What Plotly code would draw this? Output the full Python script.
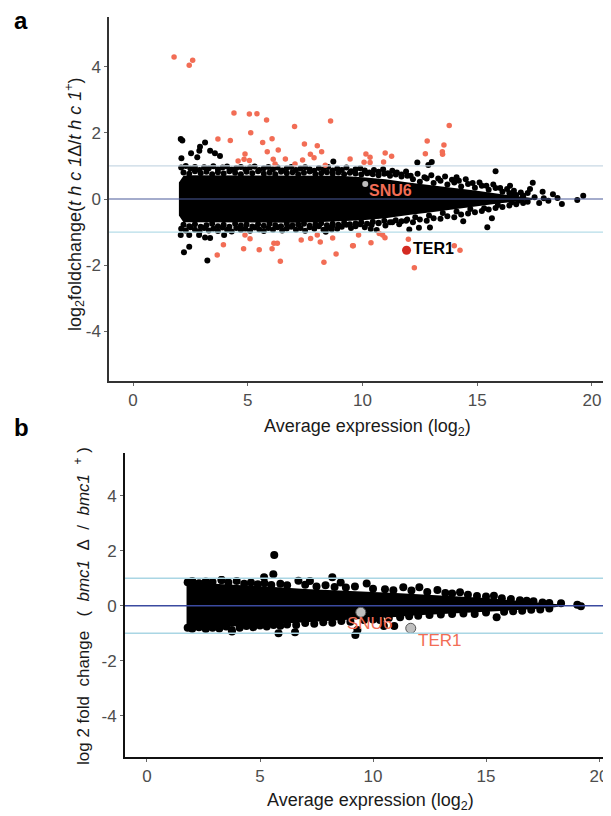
import plotly.graph_objects as go

# ---------------- Panel a data (thc1) ----------------
a_core_x = [2.0, 2.2, 2.5, 3.0, 3.5, 4.0, 5.0, 6.0, 7.0, 8.0, 9.0, 10.0, 11.0, 12.0, 13.0, 14.0, 15.0, 16.0, 16.8, 17.4]
a_core_hi = [0.5, 0.7, 0.72, 0.72, 0.72, 0.72, 0.72, 0.72, 0.72, 0.7, 0.7, 0.66, 0.6, 0.5, 0.42, 0.34, 0.25, 0.15, 0.08, 0.03]
a_core_lo = [-0.5, -0.7, -0.72, -0.72, -0.72, -0.72, -0.72, -0.72, -0.72, -0.7, -0.68, -0.64, -0.58, -0.48, -0.4, -0.32, -0.22, -0.13, -0.07, -0.03]

# inner ragged rows of the dense cloud
a_row_x = [2.2, 2.45, 2.7, 2.95, 3.2, 3.45, 3.7, 3.95, 4.2, 4.45, 4.7, 4.95, 5.2, 5.45, 5.7, 5.95, 6.2, 6.45, 6.7, 6.95,
           7.2, 7.45, 7.7, 7.95, 8.2, 8.45, 8.7, 8.95, 9.2, 9.45, 9.7, 9.95, 10.2, 10.45, 10.7, 10.95, 11.2, 11.45, 11.7, 11.95]
a_row_hi = [0.8, 0.76, 0.84, 0.78, 0.82, 0.75, 0.81, 0.77, 0.84, 0.79, 0.75, 0.82, 0.78, 0.84, 0.76, 0.8, 0.75, 0.82, 0.78, 0.81,
            0.75, 0.79, 0.83, 0.75, 0.78, 0.81, 0.76, 0.8, 0.75, 0.79, 0.77, 0.74, 0.78, 0.75, 0.72, 0.76, 0.7, 0.74, 0.68, 0.7]
a_row_lo = [-0.78, -0.82, -0.76, -0.84, -0.79, -0.75, -0.82, -0.78, -0.84, -0.75, -0.8, -0.77, -0.83, -0.76, -0.81, -0.75, -0.79, -0.82, -0.75, -0.8,
            -0.77, -0.75, -0.81, -0.76, -0.73, -0.79, -0.75, -0.78, -0.72, -0.76, -0.74, -0.7, -0.75, -0.69, -0.73, -0.66, -0.7, -0.64, -0.67, -0.62]

# ragged right tail of the cloud
a_tail_x = [12.2, 12.5, 12.8, 13.1, 13.4, 13.7, 14.0, 14.3, 14.6, 14.9, 15.2, 15.5, 15.8, 16.1, 16.4, 16.7, 17.0,
            12.3, 12.9, 13.5, 14.1, 14.7, 15.3, 15.9, 16.5]
a_tail_y = [0.6, 0.52, 0.62, 0.48, 0.55, 0.44, 0.5, 0.38, 0.45, 0.34, 0.4, 0.28, 0.33, 0.22, 0.18, 0.12, 0.08,
            -0.55, -0.5, -0.42, -0.38, -0.3, -0.28, -0.18, -0.1]

a_black_x = [2.1, 2.3, 2.5, 2.7, 2.9, 3.1, 3.3, 3.5, 3.7, 3.9, 4.1, 4.3, 4.5, 4.7, 4.9, 5.1, 5.3, 5.5, 5.7, 5.9,
             6.1, 6.3, 6.5, 6.7, 6.9, 7.1, 7.3, 7.5, 7.7, 7.9, 8.1, 8.3, 8.5, 8.7, 8.9, 9.1, 9.3, 9.5, 9.7, 9.9,
             10.1, 10.3, 10.5, 10.7, 10.9, 11.1, 11.3, 11.5, 11.7, 11.9, 12.1, 12.4, 12.7, 13.0, 13.3, 13.6, 13.9,
             14.2, 14.5, 14.8, 15.1, 15.4, 15.7, 16.0, 16.3, 16.6, 16.9, 17.2,
             2.1, 2.3, 2.5, 2.7, 2.9, 3.1, 3.3, 3.5, 3.7, 3.9, 4.1, 4.3, 4.5, 4.7, 4.9, 5.1, 5.3, 5.5, 5.7, 5.9,
             6.1, 6.3, 6.5, 6.7, 6.9, 7.1, 7.3, 7.5, 7.7, 7.9, 8.1, 8.3, 8.5, 8.7, 8.9, 9.1, 9.3, 9.5, 9.7, 9.9,
             10.1, 10.4, 10.7, 11.0, 11.3, 11.6, 11.9, 12.2, 12.5, 12.8, 13.1, 13.4, 13.7, 14.0, 14.3, 14.6, 14.9,
             15.2, 15.5, 15.8, 16.1, 16.4, 16.7, 17.0,
             2.08, 2.15, 2.11, 3.14, 2.53, 2.92, 2.89, 3.36, 3.57, 3.79, 2.80, 2.08, 2.45, 2.88, 3.14, 3.36, 2.45,
             2.22, 3.24, 3.97, 8.73, 8.40, 8.66, 12.39, 13.02, 12.87, 15.8, 17.42, 14.1, 16.43, 15.64, 15.44, 14.39,
             12.94, 12.46, 12.04, 10.36, 10.62,
             16.5, 16.8, 17.0, 17.2, 17.3, 17.5, 17.7, 17.85, 17.9, 18.1, 18.3, 18.5, 18.69, 19.36, 19.62]
a_black_y = [0.95, 1.0, 0.92, 0.97, 0.88, 0.96, 0.93, 0.99, 0.9, 0.95, 0.98, 0.89, 0.94, 0.97, 0.9, 0.95, 0.98, 0.88, 0.93, 0.97,
             0.9, 0.95, 0.86, 0.93, 0.97, 0.88, 0.92, 0.96, 0.9, 0.85, 0.94, 0.89, 0.97, 0.86, 0.92, 0.88, 0.95, 0.84, 0.9, 0.93,
             0.86, 0.8, 0.88, 0.82, 0.9, 0.78, 0.85, 0.8, 0.74, 0.83, 0.7, 0.76, 0.66, 0.72, 0.62, 0.68, 0.58,
             0.55, 0.6, 0.48, 0.5, 0.4, 0.44, 0.33, 0.3, 0.25, 0.2, 0.18,
             -0.9, -0.95, -0.85, -0.93, -0.98, -0.88, -0.95, -0.9, -0.97, -0.86, -0.93, -0.98, -0.88, -0.94, -0.9, -0.96, -0.86, -0.92, -0.97, -0.88,
             -0.93, -0.85, -0.95, -0.89, -0.84, -0.93, -0.88, -0.96, -0.85, -0.9, -0.82, -0.93, -0.87, -0.8, -0.9, -0.84, -0.78, -0.88, -0.82, -0.76,
             -0.85, -0.78, -0.72, -0.8, -0.7, -0.76, -0.66, -0.7, -0.62, -0.66, -0.58, -0.6, -0.52, -0.55, -0.47, -0.44, -0.4,
             -0.36, -0.32, -0.27, -0.24, -0.2, -0.16, -0.12,
             1.81, 1.77, 1.23, 1.71, 1.38, 1.58, 1.46, 1.46, 1.38, 1.30, 1.26, -1.09, -1.09, -1.09, -1.16, -1.18, -1.44,
             -1.61, -1.86, -1.09, 1.13, -0.99, -0.92, 1.10, 1.12, 1.03, 0.84, 0.49, 0.66, 0.40, -0.58, -0.85, -0.67,
             -0.86, -0.87, -0.92, -0.91, -0.94,
             0.15, -0.05, 0.1, -0.08, 0.3, 0.05, -0.12, 0.22, 0.02, -0.05, 0.14, 0.03, -0.15, -0.03, 0.10]

a_red_x = [1.79, 2.45, 2.60, 4.40, 5.07, 5.40, 5.82, 7.04, 8.61, 5.13, 3.70, 4.24, 6.06, 5.65, 7.47, 8.03, 8.22, 5.85,
           6.33, 4.88, 7.73, 7.89, 4.84, 4.58, 5.07, 6.11, 6.64, 7.39, 7.06, 6.19, 9.46, 8.38,
           13.78, 12.82, 13.55, 13.48, 13.49, 12.74, 10.15, 10.33, 10.99, 11.27, 10.07, 10.33, 10.92,
           4.88, 5.10, 3.94, 3.67, 4.82, 5.50, 6.06, 6.14, 6.29, 6.42, 7.33, 7.74, 8.03, 8.16, 8.70, 8.85, 8.32, 9.57,
           9.83, 9.60, 10.37, 10.73, 10.88, 10.98, 12.0, 12.26, 14.0, 14.25]
a_red_y = [4.29, 4.04, 4.19, 2.60, 2.57, 2.58, 2.39, 2.19, 2.36, 2.0, 1.81, 1.77, 1.82, 1.71, 1.66, 1.61, 1.43, 1.43,
           1.48, 1.36, 1.35, 1.25, 1.20, 1.15, 1.16, 1.20, 1.21, 1.18, 1.06, 1.06, 1.21, 1.02,
           2.22, 1.75, 1.63, 1.43, 1.35, 1.37, 1.36, 1.26, 1.39, 1.29, 1.11, 1.10, 1.12,
           -1.09, -1.20, -1.38, -1.69, -1.50, -1.53, -1.50, -1.34, -1.34, -1.88, -1.24, -1.19, -1.09, -1.30, -1.18, -1.66, -1.91, -1.41,
           -1.09, -1.41, -1.32, -1.04, -1.09, -1.17, -1.22, -2.08, -1.41, -1.55]

a_snu6 = (10.12, 0.45)
a_ter1 = (11.92, -1.55)

# ---------------- Panel b data (bmc1) ----------------
b_core_x = [1.75, 2.0, 3.0, 4.0, 5.0, 6.0, 7.0, 8.0, 9.0, 10.0, 11.0, 12.0, 13.0, 14.0, 15.0, 16.0, 17.0, 17.8, 18.2]
b_core_hi = [0.8, 0.83, 0.8, 0.76, 0.72, 0.66, 0.61, 0.58, 0.55, 0.5, 0.46, 0.42, 0.38, 0.34, 0.28, 0.21, 0.14, 0.09, 0.05]
b_core_lo = [-0.74, -0.78, -0.78, -0.75, -0.72, -0.67, -0.61, -0.56, -0.51, -0.46, -0.41, -0.35, -0.3, -0.27, -0.22, -0.17, -0.13, -0.08, -0.04]

b_black_x = [1.8, 2.0, 2.3, 2.6, 2.9, 3.3, 3.6, 3.97, 4.3, 4.6, 4.9, 5.2, 5.5, 5.9, 6.2, 6.70, 7.21, 7.0, 7.5, 7.9,
             8.57, 8.3, 8.8, 9.2, 9.72, 10.0, 10.53, 10.9, 11.34, 11.7, 12.05, 12.4, 12.85, 13.2, 13.5, 13.85, 14.2,
             14.6, 15.0, 15.35, 15.7, 16.1, 16.5, 16.8, 17.1, 17.5, 17.8, 18.32, 19.04, 19.2,
             1.8, 2.0, 2.3, 2.6, 2.9, 3.2, 3.5, 3.75, 4.1, 4.4, 4.7, 5.0, 5.3, 5.6, 5.9, 6.2, 6.6, 7.0, 7.4, 7.8,
             8.2, 8.6, 9.0, 9.6, 10.0, 10.31, 10.7, 11.2, 11.6, 12.0, 12.5, 13.0, 13.5, 14.0, 14.5, 15.0, 15.47,
             15.8, 16.2, 16.6, 17.0, 17.4, 17.8,
             5.63, 5.59, 5.18, 8.2, 3.30, 3.76, 5.82, 6.55, 9.22, 9.31, 10.48, 10.94]
b_black_y = [0.85, 0.9, 0.82, 0.88, 0.86, 0.93, 0.84, 0.9, 0.8, 0.84, 0.78, 0.82, 0.75, 0.8, 0.74, 0.91, 0.90, 0.76, 0.7, 0.74,
             0.84, 0.68, 0.66, 0.7, 0.81, 0.62, 0.6, 0.56, 0.67, 0.55, 0.67, 0.5, 0.57, 0.46, 0.44, 0.49, 0.4,
             0.35, 0.33, 0.36, 0.27, 0.24, 0.2, 0.18, 0.16, 0.12, 0.1, 0.09, 0.03, -0.02,
             -0.8, -0.84, -0.78, -0.85, -0.8, -0.83, -0.76, -0.88, -0.8, -0.74, -0.78, -0.72, -0.76, -0.7, -0.73, -0.68, -0.7, -0.63, -0.66, -0.6,
             -0.62, -0.56, -0.58, -0.52, -0.5, -0.52, -0.45, -0.42, -0.38, -0.37, -0.34, -0.32, -0.3, -0.28, -0.3, -0.25, -0.42,
             -0.22, -0.2, -0.18, -0.15, -0.14, -0.1,
             1.84, 1.14, 1.03, 1.03, 0.93, -0.94, -1.0, -0.97, -1.07, -0.88, -0.74, -0.74]

b_snu6 = (9.46, -0.24)
b_ter1 = (11.67, -0.82)

x_ticks = [0, 5, 10, 15, 20]
y_ticks = [-4, -2, 0, 2, 4]
y_tick_labels = ["-4", "-2", "0", "2", "4"]

FONT = "Liberation Sans, Arial, Helvetica, sans-serif"
SALMON = "#f26d55"
W, H = 603, 808          # page adds an 8px body margin


def PX(v):
    return (v - 8) / W


def PY(v):
    return 1 - (v - 8) / H


fig = go.Figure()


def core_trace(cx, hi, lo, xa, ya):
    return go.Scatter(x=cx + cx[::-1], y=hi + lo[::-1], fill="toself", fillcolor="black",
                      mode="lines", line=dict(width=0, color="black"), hoverinfo="skip",
                      showlegend=False, xaxis=xa, yaxis=ya)


# panel a
fig.add_trace(core_trace(a_core_x, a_core_hi, a_core_lo, "x", "y"))
fig.add_trace(go.Scatter(x=a_row_x + a_row_x + a_tail_x + a_black_x,
                         y=a_row_hi + a_row_lo + a_tail_y + a_black_y, mode="markers",
                         marker=dict(size=6, color="black"), showlegend=False, xaxis="x", yaxis="y"))
fig.add_trace(go.Scatter(x=a_red_x, y=a_red_y, mode="markers", marker=dict(size=5.5, color=SALMON),
                         showlegend=False, xaxis="x", yaxis="y"))
fig.add_trace(go.Scatter(x=[a_snu6[0]], y=[a_snu6[1]], mode="markers", marker=dict(size=6, color="#bdbdbd"),
                         showlegend=False, xaxis="x", yaxis="y"))
fig.add_trace(go.Scatter(x=[a_ter1[0]], y=[a_ter1[1]], mode="markers", marker=dict(size=9, color="#d42a22"),
                         showlegend=False, xaxis="x", yaxis="y"))

# panel b
fig.add_trace(core_trace(b_core_x, b_core_hi, b_core_lo, "x2", "y2"))
fig.add_trace(go.Scatter(x=b_black_x, y=b_black_y, mode="markers",
                         marker=dict(size=8, color="black"), showlegend=False, xaxis="x2", yaxis="y2"))
fig.add_trace(go.Scatter(x=[b_snu6[0], b_ter1[0]], y=[b_snu6[1], b_ter1[1]], mode="markers",
                         marker=dict(size=10, color="#bfbfbf", line=dict(color="#555555", width=1)),
                         showlegend=False, xaxis="x2", yaxis="y2"))

axis_common = dict(showgrid=False, zeroline=False, showline=True, ticks="outside", ticklen=3,
                   tickcolor="#666666", tickfont=dict(family=FONT, size=17, color="#4d4d4d"))

fig.update_layout(
    width=W, height=H, margin=dict(l=0, r=0, t=0, b=0),
    paper_bgcolor="white", plot_bgcolor="white", showlegend=False,
    xaxis=dict(domain=[PX(109), 1.0], range=[-1.046, 20.83], tickvals=x_ticks, anchor="y",
               linecolor="#333333", linewidth=1.5, **axis_common),
    yaxis=dict(domain=[PY(381), PY(17)], range=[-5.5, 5.5], tickvals=y_ticks, ticktext=y_tick_labels,
               anchor="x", linecolor="#333333", linewidth=1.5, **axis_common),
    xaxis2=dict(domain=[PX(125), 1.0], range=[-0.973, 20.53], tickvals=x_ticks, anchor="y2",
                linecolor="#111111", linewidth=2, **axis_common),
    yaxis2=dict(domain=[PY(757), PY(453)], range=[-5.5, 5.55], tickvals=y_ticks, ticktext=y_tick_labels,
                anchor="x2", linecolor="#111111", linewidth=2, **axis_common),
)


def hline(yv, color, width, xr, yr):
    fig.add_shape(type="line", xref=xr + " domain", yref=yr, x0=0, x1=1, y0=yv, y1=yv,
                  line=dict(color=color, width=width), layer="above")


hline(1, "#c8d8e4", 1.2, "x", "y")
hline(-1, "#b6dde8", 1.2, "x", "y")
hline(0, "#4a5a9a", 1.2, "x", "y")
hline(1, "#aad6e4", 1.5, "x2", "y2")
hline(-1, "#aad6e4", 1.5, "x2", "y2")
hline(0, "#3b4aa0", 1.5, "x2", "y2")


def pann(text, x, y, size, color="#1a1a1a", angle=0):
    return dict(text=text, x=PX(x), y=PY(y), xref="paper", yref="paper", showarrow=False,
                xanchor="center", yanchor="middle", textangle=angle,
                font=dict(family=FONT, size=size, color=color))


ann = [
    pann("<b>a</b>", 21, 20, 24, "black"),
    pann("<b>b</b>", 21, 427, 24, "black"),
    pann("Average expression (log<sub>2</sub>)", 368, 427, 18),
    pann("Average expression (log<sub>2</sub>)", 370, 801, 18),
    pann("log<sub>2</sub>foldchange(<i>t h c 1</i>Δ/<i>t h c 1</i><sup>+</sup>)", 74, 204, 18, angle=-90),
    pann("log 2 fold\u00a0 change\u00a0\u00a0 (\u00a0 <i>bmc1</i>\u00a0 Δ\u00a0 /\u00a0 <i>bmc1</i>\u00a0 <sup>+</sup> )",
         82, 606, 17, angle=-90),
]
# gene labels
ann.append(dict(text="<b>SNU6</b>", x=a_snu6[0], y=a_snu6[1], xref="x", yref="y", xanchor="left", yanchor="middle",
                xshift=2, yshift=-6, showarrow=False, font=dict(family=FONT, size=16, color=SALMON)))
ann.append(dict(text="<b>TER1</b>", x=a_ter1[0], y=a_ter1[1], xref="x", yref="y", xanchor="left", yanchor="middle",
                xshift=4, yshift=2, showarrow=False, font=dict(family=FONT, size=16, color="black")))
ann.append(dict(text="SNU6", x=b_snu6[0], y=b_snu6[1], xref="x2", yref="y2", xanchor="left", yanchor="middle",
                xshift=-16, yshift=-11, showarrow=False, font=dict(family=FONT, size=17, color=SALMON)))
ann.append(dict(text="TER1", x=b_ter1[0], y=b_ter1[1], xref="x2", yref="y2", xanchor="left", yanchor="middle",
                xshift=5, yshift=-12, showarrow=False, font=dict(family=FONT, size=17, color=SALMON)))
fig.update_layout(annotations=ann)

fig.write_html("out.html")
